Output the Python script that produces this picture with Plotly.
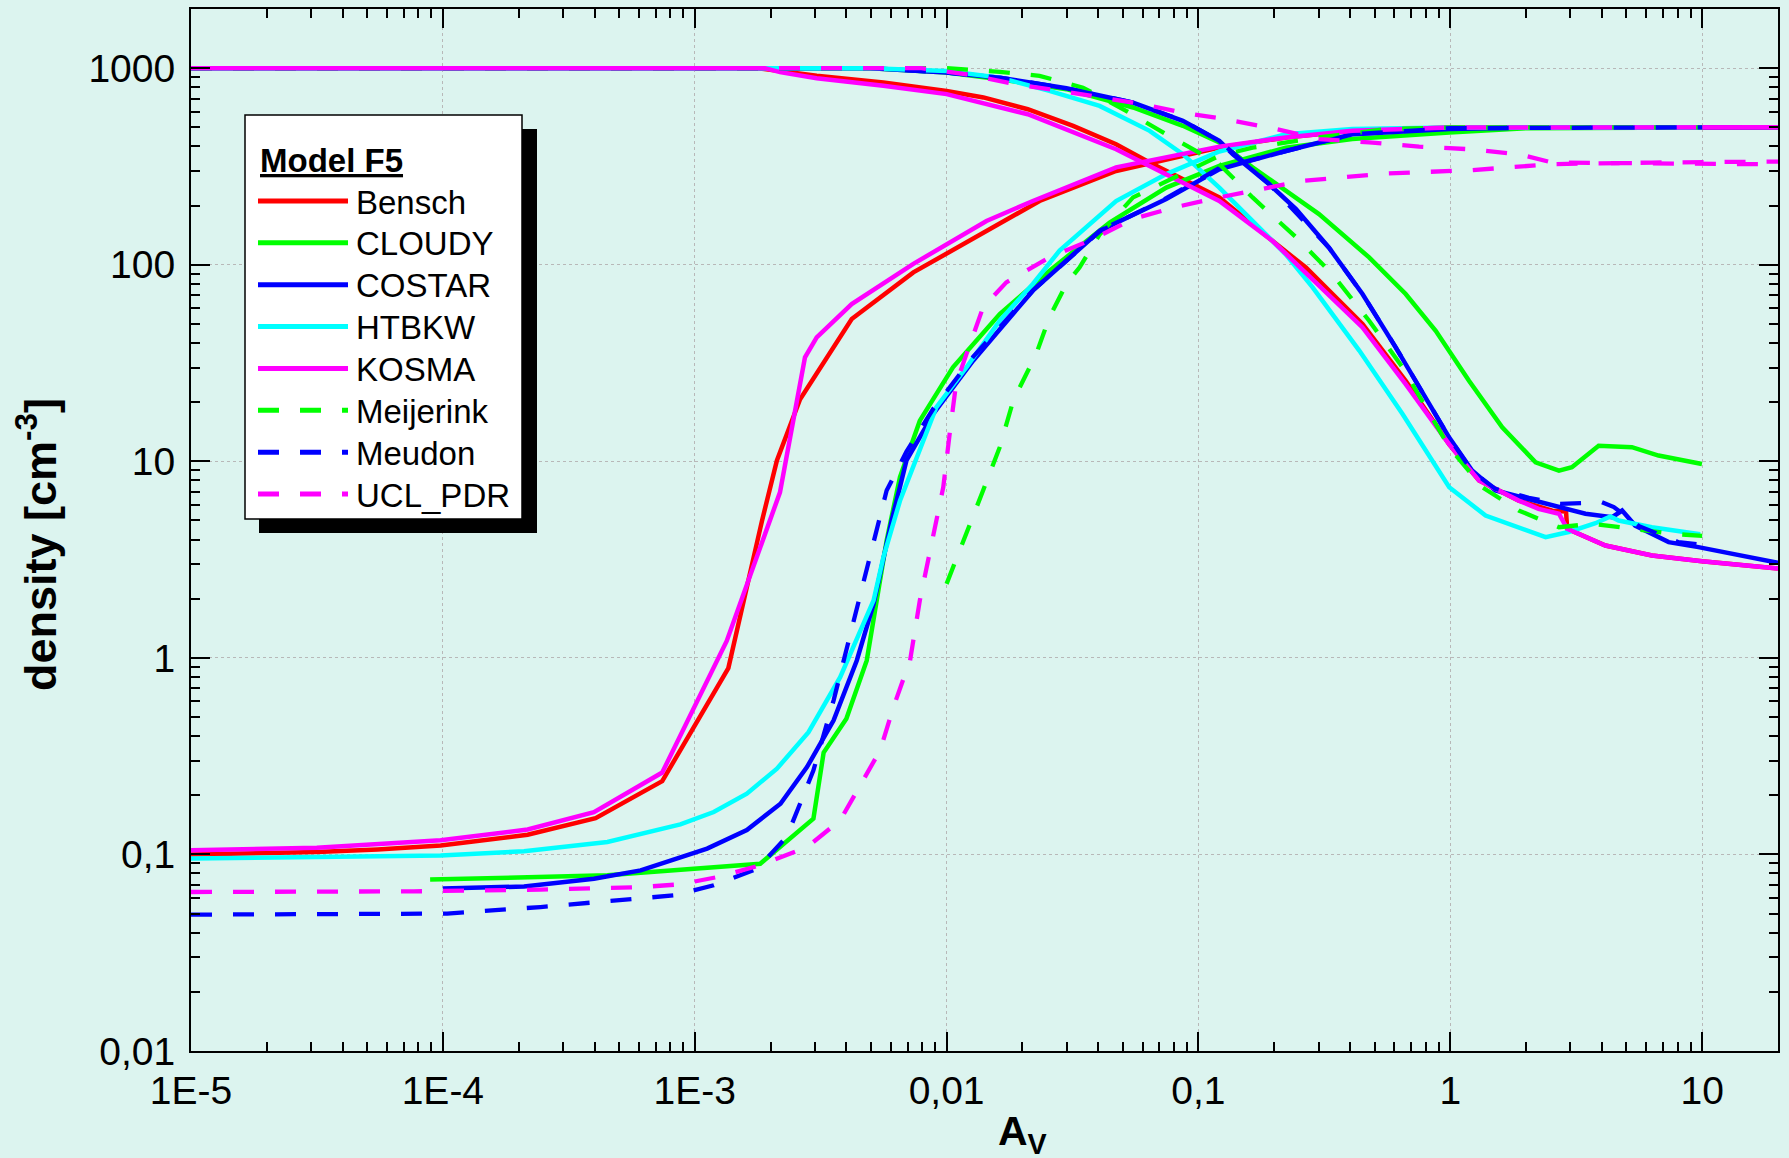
import plotly.graph_objects as go

# ---------------- data (A_V, density) ----------------
bensch_h_x = [1e-5, 1.78e-3, 2.18e-3, 3.05e-3, 5.61e-3, 1.0e-2, 1.40e-2, 2.10e-2, 3.18e-2, 4.71e-2, 6.40e-2,
              0.121, 0.197, 0.267, 0.448, 0.665, 0.99, 1.30, 1.87, 2.54, 2.88, 2.91, 4.13, 6.32, 9.98, 13.9, 20]
bensch_h_y = [1000, 1000, 968, 914, 845, 766, 710, 618, 509, 410, 331,
              220, 132, 96.8, 49.9, 25.7, 12.2, 7.98, 6.31, 5.61, 5.56, 4.54, 3.73, 3.32, 3.10, 2.99, 2.85]
bensch_h2_x = [1e-5, 3.16e-5, 5.5e-5, 9.8e-5, 2.17e-4, 4.04e-4, 7.43e-4, 1.36e-3, 1.85e-3, 2.12e-3, 2.62e-3,
               4.2e-3, 7.38e-3, 1.355e-2, 2.34e-2, 4.71e-2, 0.121, 0.222, 0.408, 0.99, 20]
bensch_h2_y = [0.100, 0.103, 0.106, 0.111, 0.126, 0.153, 0.236, 0.887, 4.99, 10.1, 20.7,
               53, 91.4, 143, 211, 300, 394, 444, 480, 499, 500]

cloudy_h_x = [1e-5, 5e-3, 1.0e-2, 1.626e-2, 2.99e-2, 5.5e-2, 8.67e-2, 0.121, 0.164, 0.301, 0.476, 0.665,
              0.875, 1.186, 1.607, 2.18, 2.70, 3.04, 3.88, 5.26, 6.71, 9.98]
cloudy_h_y = [1000, 1000, 951, 879, 782, 631, 509, 419, 313, 181, 109, 71,
              46.1, 25.7, 14.9, 9.89, 8.97, 9.33, 12.0, 11.8, 10.7, 9.68]
cloudy_h2_x = [8.9e-5, 4.5e-4, 1.82e-3, 2.96e-3, 3.25e-3, 4.0e-3, 4.82e-3, 5.28e-3, 5.78e-3, 6.53e-3, 7.83e-3,
               1.06e-2, 1.626e-2, 2.564e-2, 4.44e-2, 7.45e-2, 0.121, 0.222, 0.408, 0.99, 2.0, 10]
cloudy_h2_y = [0.0745, 0.0783, 0.0897, 0.152, 0.33, 0.49, 0.97, 1.96, 3.95, 8.3, 16.1,
               30.1, 56.1, 93.3, 164, 247, 318, 394, 436, 471, 495, 499]

costar_h_x = [1e-5, 5e-3, 1.0e-2, 1.626e-2, 2.99e-2, 5.5e-2, 8.67e-2, 0.121, 0.137, 0.191, 0.244, 0.33,
              0.448, 0.607, 0.99, 1.22, 1.51, 2.54, 3.44, 4.39, 4.81, 5.42, 7.36, 9.66, 13.9, 20]
costar_h_y = [1000, 1000, 951, 895, 791, 668, 540, 427, 365, 257, 192, 122,
              71, 38, 13.2, 8.97, 7.1, 6.01, 5.41, 5.2, 5.62, 4.71, 3.88, 3.66, 3.32, 3.05]
costar_h2_x = [1e-4, 2.1e-4, 3.98e-4, 6.1e-4, 1.12e-3, 1.61e-3, 2.19e-3, 2.79e-3, 3.56e-3, 4.4e-3, 5.13e-3,
               6.05e-3, 6.93e-3, 8.85e-3, 1.274e-2, 2.2e-2, 4.06e-2, 7.45e-2, 0.121, 0.222, 0.408, 0.99, 2.0, 20]
costar_h2_y = [0.067, 0.0687, 0.0752, 0.083, 0.107, 0.133, 0.181, 0.278, 0.481, 0.97, 1.88,
               4.99, 10.1, 17.4, 32.5, 73.8, 149, 216, 306, 379, 461, 490, 499, 500]

htbkw_h_x = [1e-5, 5e-3, 1.0e-2, 1.626e-2, 2.56e-2, 4.05e-2, 6.4e-2, 8.67e-2, 0.121, 0.222, 0.284, 0.435,
             0.646, 0.99, 1.38, 1.71, 2.39, 2.95, 3.77, 4.32, 4.66, 6.31, 9.82]
htbkw_h_y = [1000, 1000, 968, 895, 766, 643, 480, 365, 247, 113, 76.7, 36.6,
             17.4, 7.38, 5.3, 4.81, 4.11, 4.37, 4.84, 5.24, 5.0, 4.62, 4.25]
htbkw_h2_x = [1e-5, 3.16e-5, 9.8e-5, 2.1e-4, 4.5e-4, 8.77e-4, 1.19e-3, 1.61e-3, 2.12e-3, 2.83e-3, 3.78e-3,
              5.13e-3, 5.61e-3, 6.53e-3, 7.6e-3, 9.1e-3, 1.2e-2, 1.626e-2, 2.2e-2, 2.81e-2, 4.71e-2, 7.45e-2,
              0.121, 0.222, 0.408, 1.0, 10]
htbkw_h2_y = [0.0953, 0.0966, 0.0989, 0.1038, 0.1156, 0.1422, 0.1644, 0.2037, 0.273, 0.419, 0.798,
              1.96, 3.25, 6.3, 10.5, 18.8, 30.1, 51.9, 79.8, 118, 211, 289,
              377, 461, 490, 499, 500]

kosma_h_x = [1e-5, 1.9e-3, 2.18e-3, 3.05e-3, 5.61e-3, 1.0e-2, 2.10e-2, 4.71e-2, 0.121, 0.197, 0.448, 0.665,
             0.99, 1.30, 1.87, 2.24, 2.70, 2.91, 4.13, 6.32, 9.98, 20]
kosma_h_y = [1000, 1000, 955, 889, 813, 738, 583, 387, 211, 132, 48, 24.7,
             12.2, 7.98, 6.31, 5.73, 5.41, 4.54, 3.73, 3.32, 3.10, 2.85]
kosma_h2_x = [1e-5, 3.16e-5, 9.8e-5, 2.17e-4, 3.98e-4, 7.43e-4, 1.34e-3, 2.0e-3, 2.18e-3, 2.74e-3, 3.05e-3,
              4.2e-3, 7.38e-3, 1.44e-2, 2.2e-2, 4.71e-2, 0.121, 0.222, 0.408, 0.99, 20]
kosma_h2_y = [0.105, 0.108, 0.118, 0.134, 0.164, 0.261, 1.22, 4.99, 6.95, 33.8, 42.7,
              63.1, 101, 167, 211, 313, 399, 444, 480, 499, 500]

meij_h_x = [1e-5, 1.0e-2, 1.626e-2, 2.34e-2, 3.48e-2, 5.16e-2, 7.45e-2, 0.121, 0.164, 0.244, 0.34, 0.476,
            0.646, 0.99, 1.34, 1.87, 2.70, 3.66, 5.26, 7.59, 10]
meij_h_y = [1000, 1000, 957, 914, 796, 607, 461, 325, 220, 138, 89.5, 51.9,
            30.1, 11.8, 7.38, 5.62, 4.62, 4.81, 4.54, 4.28, 4.17]
meij_h2_x = [1.0e-2, 1.2e-2, 1.396e-2, 1.626e-2, 1.84e-2, 2.27e-2, 2.56e-2, 2.99e-2, 3.37e-2, 4.06e-2, 5.5e-2,
             0.121, 0.164, 0.301, 0.555, 1.0, 10]
meij_h2_y = [2.38, 4.28, 7.1, 11.8, 20.4, 35.2, 54, 79.8, 96.8, 143, 220,
             358, 394, 444, 490, 499, 500]

meudon_h_x = [1e-5, 5e-3, 1.0e-2, 1.626e-2, 2.99e-2, 5.5e-2, 8.67e-2, 0.121, 0.191, 0.33, 0.448, 0.607,
              0.99, 1.22, 1.51, 1.76, 2.05, 2.73, 4.0, 4.46, 5.62, 8.05, 9.66]
meudon_h_y = [1000, 1000, 951, 895, 791, 668, 540, 427, 257, 122, 71, 38,
              13.2, 8.9, 7.24, 6.87, 6.52, 6.07, 6.19, 5.85, 4.68, 3.88, 3.78]
meudon_h2_x = [1e-5, 3.16e-5, 1.04e-4, 2.44e-4, 5.24e-4, 8.26e-4, 1.19e-3, 1.77e-3, 2.32e-3, 2.96e-3, 3.56e-3,
               4.27e-3, 5.12e-3, 5.78e-3, 6.93e-3, 8.85e-3, 1.274e-2, 2.2e-2, 4.06e-2, 7.45e-2, 0.121, 0.222,
               0.408, 1.0, 10]
meudon_h2_y = [0.0494, 0.0497, 0.05, 0.054, 0.0585, 0.0619, 0.0697, 0.0845, 0.123, 0.268, 0.608,
               1.55, 3.8, 7.1, 11.2, 18.5, 34, 74, 148, 218, 310, 379,
               461, 495, 500]

ucl_h_x = [1e-5, 7.94e-3, 1.2e-2, 1.89e-2, 2.82e-2, 4.06e-2, 6.01e-2, 8.67e-2, 0.121, 0.191, 0.301, 0.476,
           0.752, 1.186, 1.87, 2.54, 6.31, 20]
ucl_h_y = [1000, 1000, 931, 828, 766, 710, 656, 594, 556, 499, 436, 419,
           399, 387, 365, 331, 327, 324]
ucl_h2_x = [1e-5, 7.67e-5, 2.44e-4, 6.1e-4, 8.77e-4, 1.23e-3, 1.82e-3, 2.79e-3, 3.78e-3, 4.68e-3, 5.45e-3,
            6.15e-3, 7.16e-3, 7.83e-3, 8.85e-3, 9.7e-3, 1.03e-2, 1.09e-2, 1.2e-2, 1.396e-2, 1.726e-2,
            2.564e-2, 3.81e-2, 5.5e-2, 7.91e-2, 0.121, 0.259, 0.555, 1.22, 2.54, 6.31, 20]
ucl_h2_y = [0.0644, 0.0649, 0.0662, 0.0682, 0.0705, 0.0767, 0.0881, 0.109, 0.149, 0.238, 0.339,
            0.562, 0.97, 1.96, 4.28, 7.38, 14, 24.7, 35.2, 60.7, 81.3,
            109, 135, 171, 195, 220, 267, 291, 303, 325, 331, 335]

model_names = ["Bensch", "CLOUDY", "COSTAR", "HTBKW", "KOSMA", "Meijerink", "Meudon", "UCL_PDR"]
model_colors = ["#FF0000", "#00FF00", "#0000FF", "#00FFFF", "#FF00FF", "#00FF00", "#0000FF", "#FF00FF"]
model_dashes = ["solid", "solid", "solid", "solid", "solid", "21px,21px", "21px,21px", "21px,21px"]
model_curves = [
    [(bensch_h_x, bensch_h_y), (bensch_h2_x, bensch_h2_y)],
    [(cloudy_h_x, cloudy_h_y), (cloudy_h2_x, cloudy_h2_y)],
    [(costar_h_x, costar_h_y), (costar_h2_x, costar_h2_y)],
    [(htbkw_h_x, htbkw_h_y), (htbkw_h2_x, htbkw_h2_y)],
    [(kosma_h_x, kosma_h_y), (kosma_h2_x, kosma_h2_y)],
    [(meij_h_x, meij_h_y), (meij_h2_x, meij_h2_y)],
    [(meudon_h_x, meudon_h_y), (meudon_h2_x, meudon_h2_y)],
    [(ucl_h_x, ucl_h_y), (ucl_h2_x, ucl_h2_y)],
]

x_tickvals = [1e-5, 1e-4, 1e-3, 1e-2, 1e-1, 1, 10]
x_ticktext = ["1E-5", "1E-4", "1E-3", "0,01", "0,1", "1", "10"]
y_tickvals = [0.01, 0.1, 1, 10, 100, 1000]
y_ticktext = ["0,01", "0,1", "1", "10", "100", "1000"]

# ---------------- figure ----------------
W_PX, H_PX = 1789, 1158
L, R, T, B = 191, 1778, 9, 1051
BG = "#DCF4EF"
FONT = "Liberation Sans, Arial, sans-serif"

fig = go.Figure()
for name, color, dash, curves in zip(model_names, model_colors, model_dashes, model_curves):
    for xs, ys in curves:
        fig.add_trace(go.Scatter(x=xs, y=ys, mode="lines", name=name, showlegend=False,
                                 line=dict(color=color, width=4.5 if dash == "solid" else 4.3, dash=dash),
                                 hoverinfo="skip"))


def px(X):
    return (X - L) / (R - L)


def py(Y):
    return (B - Y) / (B - T)


minor_x = [m * 10.0 ** e for e in range(-5, 2) for m in range(2, 10)]
minor_y = [m * 10.0 ** e for e in range(-2, 4) for m in range(2, 10)]

axis_common = dict(
    type="log", showline=True, linecolor="black", linewidth=2, mirror="allticks",
    ticks="inside", ticklen=19, tickwidth=1.5, tickcolor="black",
    showgrid=True, gridcolor="#B8B8B8", gridwidth=1, griddash="dot", zeroline=False,
    tickfont=dict(family=FONT, size=39, color="black"),
    minor=dict(tickmode="array", ticks="inside", ticklen=9, tickwidth=1.5, tickcolor="black", showgrid=False),
)

fig.update_xaxes(**axis_common)
fig.update_xaxes(range=[-5, 1.30103], tickmode="array", tickvals=x_tickvals, ticktext=x_ticktext,
                 minor_tickvals=minor_x, ticklabelstandoff=4)
fig.update_yaxes(**axis_common)
fig.update_yaxes(range=[-2, 3.30103], tickmode="array", tickvals=y_tickvals, ticktext=y_ticktext,
                 minor_tickvals=minor_y, ticklabelstandoff=6)

shapes = []
annotations = []
# legend box with shadow
shapes.append(dict(type="rect", xref="paper", yref="paper", x0=px(259), x1=px(537), y0=py(533), y1=py(129),
                   fillcolor="black", line=dict(width=0), layer="above"))
shapes.append(dict(type="rect", xref="paper", yref="paper", x0=px(245), x1=px(522), y0=py(519), y1=py(115),
                   fillcolor="white", line=dict(color="black", width=1.5), layer="above"))
annotations.append(dict(text="<b>Model F5</b>", xref="paper", yref="paper", x=px(258), y=py(160),
                        xanchor="left", yanchor="middle", showarrow=False,
                        font=dict(family=FONT, size=33, color="black", lineposition="under")))
for i, (name, color, dash) in enumerate(zip(model_names, model_colors, model_dashes)):
    yy = 201 + i * 41.86
    shapes.append(dict(type="line", xref="paper", yref="paper", x0=px(258), x1=px(348), y0=py(yy), y1=py(yy),
                       line=dict(color=color, width=5, dash=dash), layer="above"))
    annotations.append(dict(text=name, xref="paper", yref="paper", x=px(354), y=py(yy + 1),
                            xanchor="left", yanchor="middle", showarrow=False,
                            font=dict(family=FONT, size=33, color="black")))

# axis titles
annotations.append(dict(text="<b>A<sub>V</sub></b>", xref="paper", yref="paper", x=px(1022), y=py(1106),
                        xanchor="center", yanchor="top", showarrow=False,
                        font=dict(family=FONT, size=41, color="black")))
annotations.append(dict(text="<b>density [cm<sup>-3</sup>]</b>", xref="paper", yref="paper", x=px(37), y=py(545),
                        xanchor="center", yanchor="middle", textangle=-90, showarrow=False,
                        font=dict(family=FONT, size=45, color="black")))

fig.update_layout(
    width=W_PX, height=H_PX,
    margin=dict(l=L, r=W_PX - R, t=T, b=H_PX - B, autoexpand=False),
    paper_bgcolor=BG, plot_bgcolor=BG,
    showlegend=False,
    shapes=shapes, annotations=annotations,
    font=dict(family=FONT, color="black"),
)

fig.write_html("out.html", config={"displayModeBar": False},
               post_script="document.body.style.margin='0px';document.body.style.background='" + BG + "';")
